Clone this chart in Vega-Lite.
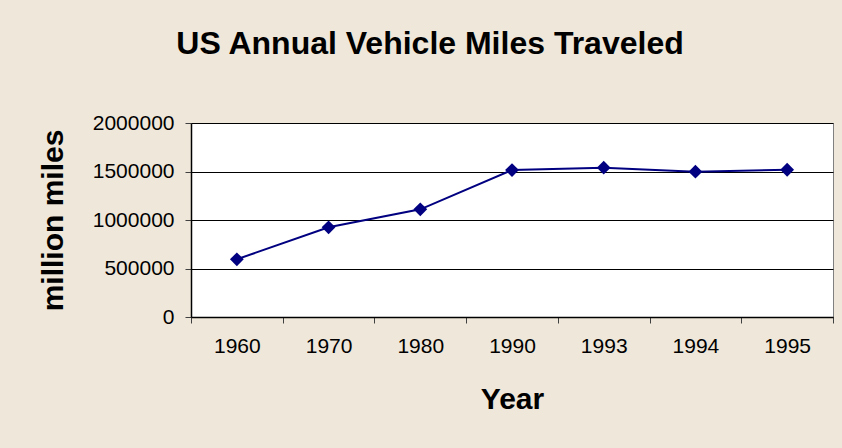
{
  "$schema": "https://vega.github.io/schema/vega-lite/v6.json",
  "width": 642,
  "height": 194,
  "autosize": {"type": "none"},
  "padding": {"left": 191, "top": 123, "right": 9, "bottom": 131},
  "background": "#EFE7D9",
  "title": {
    "text": "US Annual Vehicle Miles Traveled",
    "font": "Liberation Sans",
    "fontSize": 32,
    "fontWeight": "bold",
    "color": "#000000",
    "anchor": "middle",
    "dx": -82,
    "offset": 51
  },
  "config": {
    "view": {"fill": "#FFFFFF", "stroke": "#808080", "strokeWidth": 1},
    "axis": {
      "labelFont": "Liberation Sans",
      "titleFont": "Liberation Sans",
      "labelColor": "#000000",
      "titleColor": "#000000",
      "domainColor": "#000000",
      "tickColor": "#404040",
      "gridColor": "#000000",
      "gridOpacity": 1,
      "domainWidth": 1.5
    }
  },
  "data": {
    "values": [
      {"year": "1960", "miles": 595000},
      {"year": "1970", "miles": 925000},
      {"year": "1980", "miles": 1110000},
      {"year": "1990", "miles": 1515000},
      {"year": "1993", "miles": 1539000},
      {"year": "1994", "miles": 1498000},
      {"year": "1995", "miles": 1518000}
    ]
  },
  "encoding": {
    "x": {
      "field": "year",
      "type": "ordinal",
      "sort": null,
      "scale": {"type": "band", "paddingInner": 0, "paddingOuter": 0},
      "axis": {
        "title": "Year",
        "titleFontSize": 30,
        "titleFontWeight": "bold",
        "titlePadding": 28,
        "labelFontSize": 21,
        "labelAngle": 0,
        "labelPadding": 12,
        "tickSize": 6,
        "tickBand": "extent",
        "grid": false
      }
    },
    "y": {
      "field": "miles",
      "type": "quantitative",
      "scale": {"domain": [0, 2000000], "nice": false, "zero": true},
      "axis": {
        "title": "million miles",
        "titleFontSize": 30,
        "titleFontWeight": "bold",
        "titlePadding": 24,
        "labelFontSize": 21,
        "labelPadding": 11,
        "tickSize": 6,
        "format": "d",
        "values": [0, 500000, 1000000, 1500000, 2000000],
        "grid": true
      }
    }
  },
  "layer": [
    {"mark": {"type": "line", "color": "#000080", "strokeWidth": 2}},
    {"mark": {"type": "point", "shape": "diamond", "filled": true, "color": "#000080", "size": 190, "opacity": 1}}
  ]
}
